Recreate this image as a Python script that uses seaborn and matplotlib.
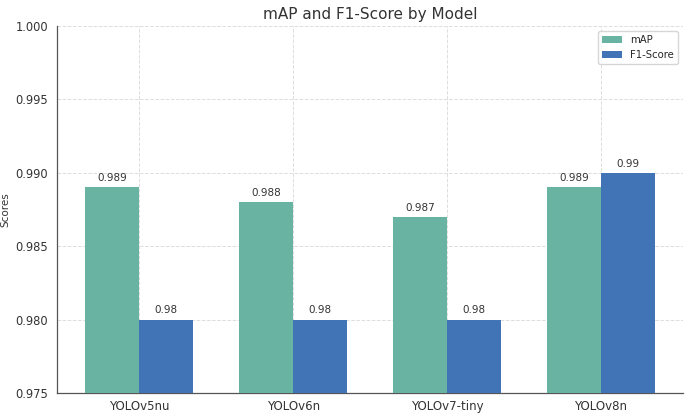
import pandas as pd
import numpy as np
import matplotlib
matplotlib.use("Agg")
import matplotlib.pyplot as plt
import seaborn as sns

# values
models = ["YOLOv5nu", "YOLOv6n", "YOLOv7-tiny", "YOLOv8n"]
map_scores = [0.989, 0.988, 0.987, 0.989]
f1_scores = [0.98, 0.98, 0.98, 0.99]
metrics = ["mAP", "F1-Score"]
colors = ["#69b3a2", "#4174b6"]

df = pd.DataFrame({
    "Model": models * 2,
    "Metric": [metrics[0]] * len(models) + [metrics[1]] * len(models),
    "Score": map_scores + f1_scores,
})

sns.set_style("white")
plt.rcParams['font.family'] = ['DejaVu Sans']

fig, ax = plt.subplots(figsize=(6.95, 4.16), dpi=100)
sns.barplot(data=df, x="Model", y="Score", hue="Metric", palette=colors,
            width=0.7, saturation=1, linewidth=0, ax=ax, zorder=3)

for cont, vals in zip(ax.containers, [map_scores, f1_scores]):
    ax.bar_label(cont, labels=[str(v) for v in vals], padding=3, fontsize=7.5, color="#333333")

ax.set_xlim(-0.535, 3.535)
ax.set_ylim(0.975, 1.0)
ax.set_yticks(np.arange(0.975, 1.0001, 0.005))
ax.yaxis.set_major_formatter(plt.FormatStrFormatter("%.3f"))
ax.set_title("mAP and F1-Score by Model", fontsize=11, color="#333333", pad=5)
ax.set_ylabel("Scores", fontsize=7.5, color="#333333")
ax.yaxis.set_label_coords(-0.074, 0.5)
ax.set_xlabel("")
ax.tick_params(axis="y", labelsize=8.3, colors="#333333", length=3)
ax.tick_params(axis="x", labelsize=8.5, colors="#333333", length=3, pad=2)
ax.grid(True, linestyle="--", color="#dddddd", linewidth=0.7, zorder=0)
ax.set_axisbelow(True)
for s in ["top", "right"]:
    ax.spines[s].set_visible(False)
for s in ["left", "bottom"]:
    ax.spines[s].set_color("#555555")
    ax.spines[s].set_linewidth(0.9)

leg = ax.legend(loc="upper right", fontsize=7.3, frameon=True)
leg.set_title(None)

fig.subplots_adjust(left=0.082, right=0.983, top=0.938, bottom=0.055)
fig.savefig("out.png", dpi=100)
